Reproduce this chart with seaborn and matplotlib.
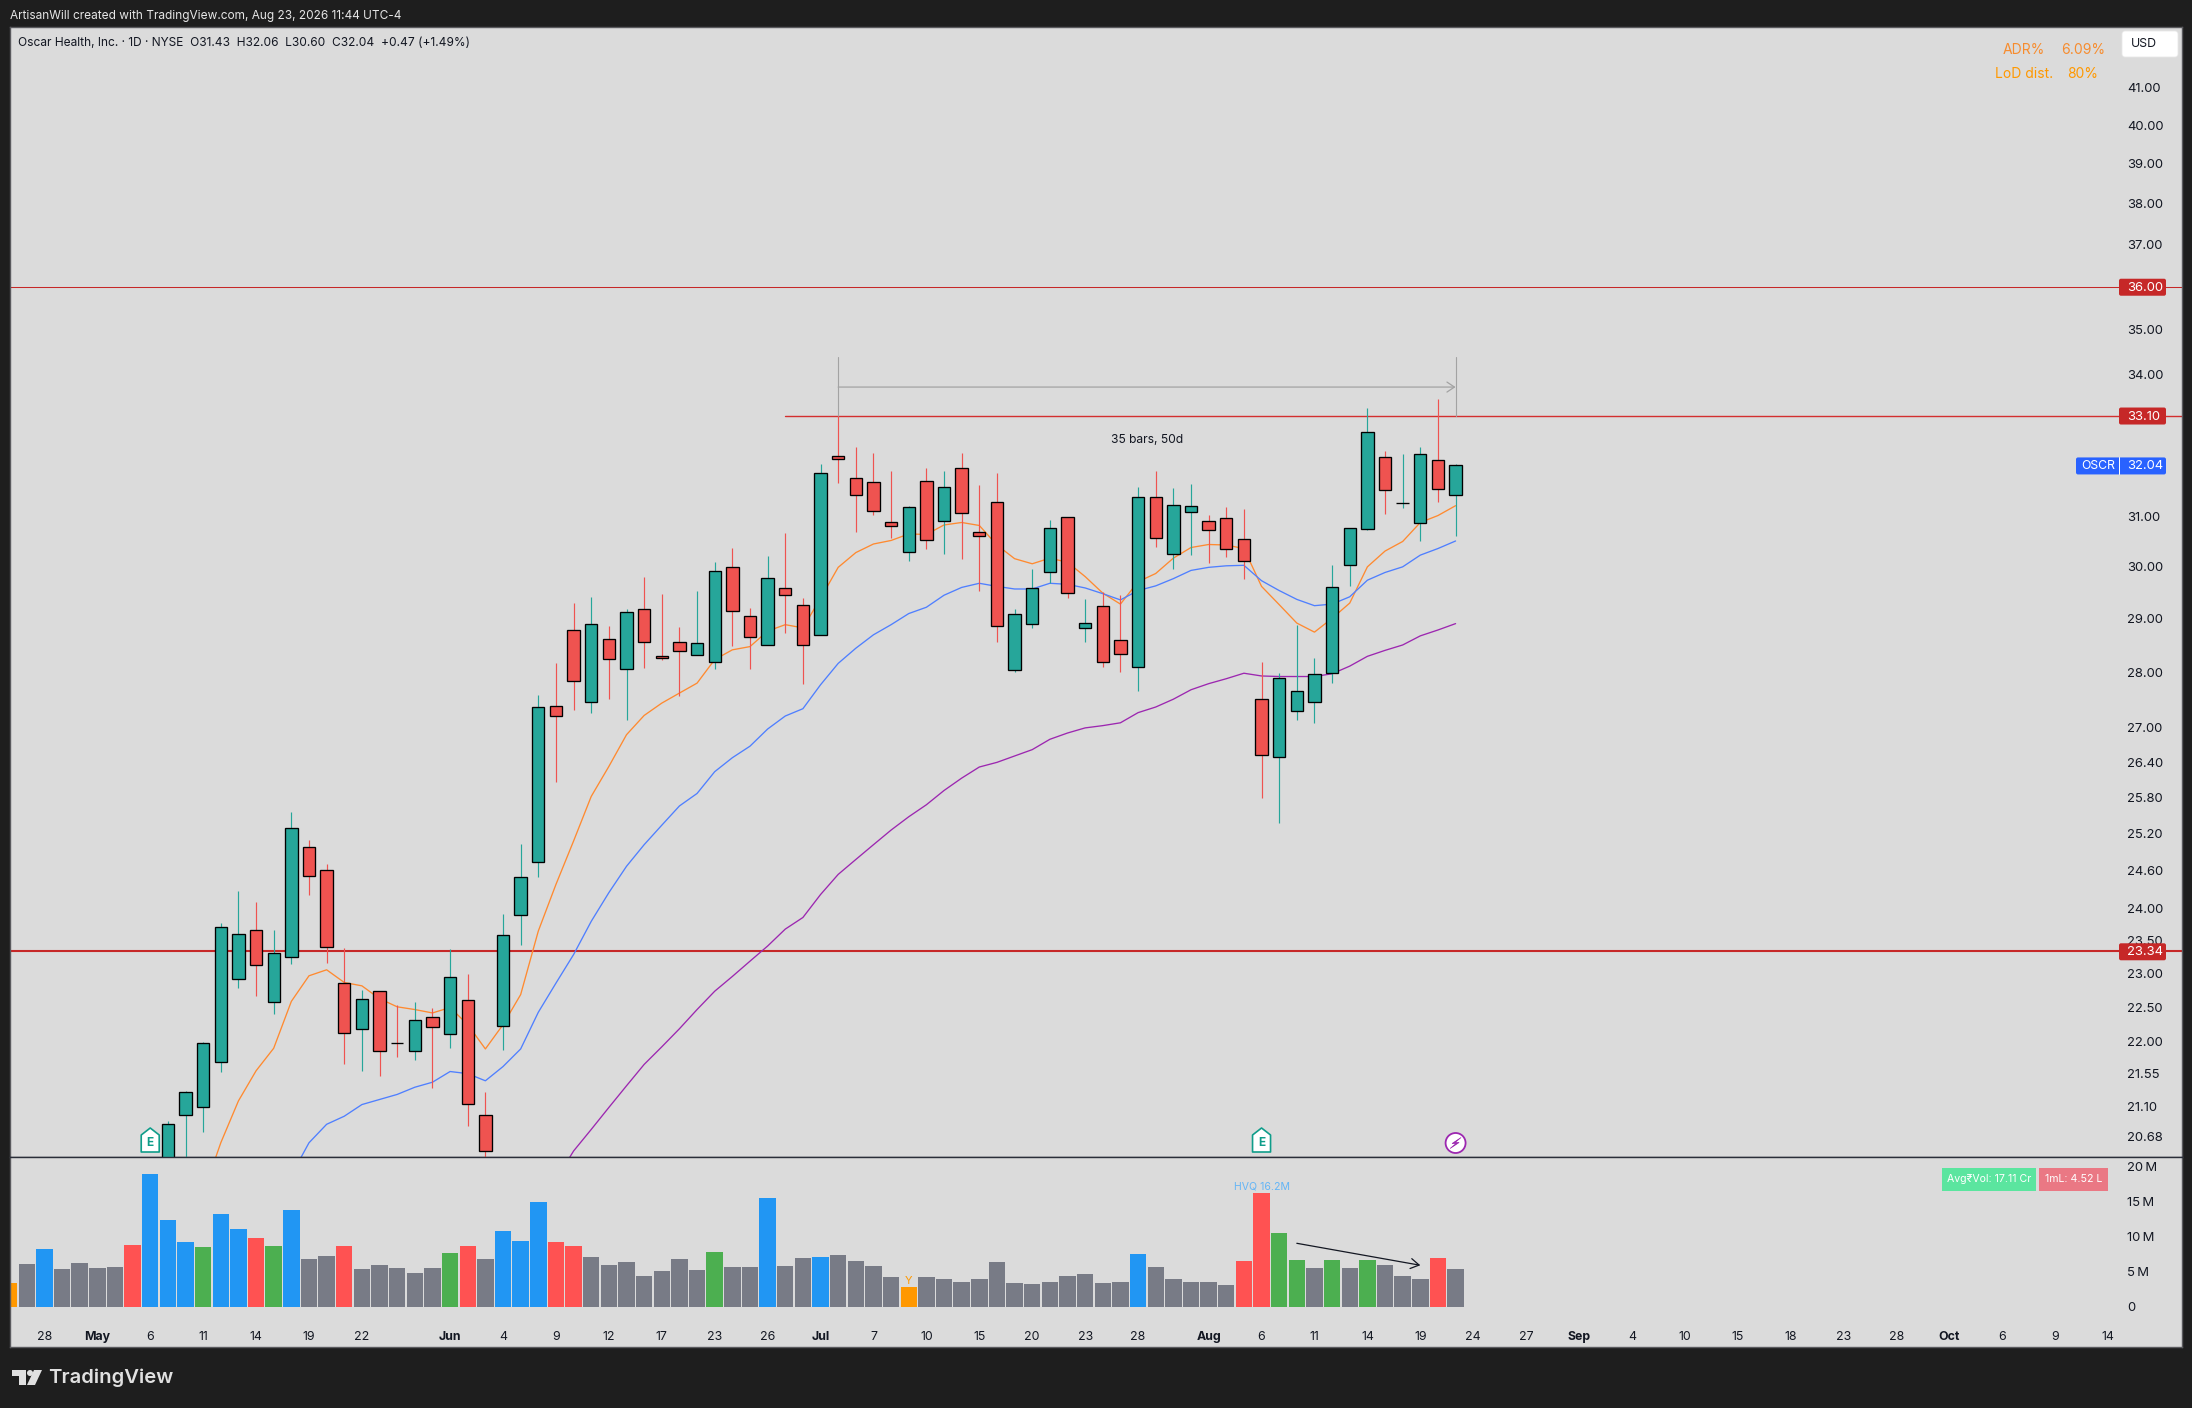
import numpy as np
import pandas as pd
import matplotlib
matplotlib.use("Agg")
import matplotlib.pyplot as plt
from matplotlib.patches import Rectangle, FancyBboxPatch, Polygon, Circle
from matplotlib.ticker import NullLocator
import seaborn as sns

# ---------- data ----------
candle_start = 9
high_ = [20.89,21.31,22.00,23.77,24.27,24.11,23.66,25.56,25.09,24.70,23.39,22.76,22.74,22.54,22.58,22.49,23.37,23.00,21.30,23.92,25.03,27.59,
         28.16,29.29,29.41,28.86,29.18,29.80,29.47,28.84,29.53,30.09,30.36,29.20,30.20,30.66,29.39,32.06,33.10,32.43,32.31,31.93,31.21,31.99,31.93,32.31,31.64,31.89,
         29.18,29.95,30.92,30.98,29.37,29.51,29.45,31.60,31.93,31.58,31.66,31.03,31.19,31.15,28.19,27.99,28.88,28.25,30.03,30.75,33.27,32.35,32.27,32.43,33.46,32.06]
open_ = [20.25,20.97,21.09,21.72,22.92,23.67,22.58,23.25,24.98,24.61,22.86,22.18,22.74,21.99,21.87,22.36,22.12,22.61,20.97,22.23,23.90,24.74,
         27.39,28.78,27.46,28.61,28.06,29.18,28.30,28.55,28.31,28.19,29.98,29.04,28.50,29.58,29.25,28.69,32.24,31.78,31.70,30.88,30.28,31.72,30.90,31.99,30.68,31.28,
         28.04,28.89,29.88,30.98,28.81,29.23,28.59,28.09,31.39,30.24,31.08,30.90,30.96,30.54,27.51,26.49,27.30,27.46,27.98,30.02,30.74,32.22,31.26,30.86,32.16,31.43]
close_ = [20.86,21.30,21.99,23.71,23.60,23.13,23.31,25.29,24.52,23.40,22.13,22.62,21.87,21.98,22.32,22.21,22.95,21.13,20.49,23.59,24.50,27.37,
          27.21,27.84,28.89,28.24,29.12,28.55,28.26,28.39,28.53,29.91,29.14,28.65,29.77,29.44,28.50,31.89,32.18,31.43,31.10,30.80,31.18,30.52,31.59,31.06,30.59,28.86,
          29.08,29.58,30.75,29.48,28.91,28.19,28.33,31.39,30.56,31.22,31.20,30.72,30.35,30.10,26.53,27.89,27.66,27.97,29.60,30.75,32.75,31.53,31.27,32.28,31.55,32.04]
low_ = [20.20,20.35,20.74,21.57,22.79,22.67,22.40,23.14,24.21,23.16,21.68,21.59,21.52,21.78,21.74,21.35,21.92,20.83,20.38,21.88,23.44,24.50,
        26.07,27.32,27.26,27.52,27.14,28.07,28.23,27.56,28.31,28.05,28.49,28.05,28.50,28.73,27.78,28.69,31.68,30.68,31.03,30.56,30.11,30.34,30.24,30.15,29.52,28.56,
        28.00,28.82,29.67,29.39,28.56,28.09,28.00,27.65,30.38,29.94,30.22,30.06,30.18,29.75,25.80,25.37,27.14,27.09,27.81,29.61,30.71,31.05,31.17,30.49,31.28,30.60]

ma_orange_start = 11
ma_orange = [19.93,20.60,21.17,21.59,21.91,22.59,22.97,23.06,22.87,22.82,22.63,22.51,22.47,22.42,22.50,22.25,21.90,22.25,22.69,23.65,24.38,25.08,25.82,26.33,26.88,27.22,
             27.44,27.62,27.80,28.23,28.41,28.47,28.76,28.88,28.82,29.38,29.98,30.27,30.44,30.51,30.64,30.63,30.82,30.87,30.81,30.42,
             30.15,30.05,30.16,30.08,29.80,29.48,29.27,29.70,29.86,30.16,30.37,30.43,30.42,30.35,29.61,29.26,28.91,28.74,29.00,29.29,29.99,30.30,30.49,30.87,31.01,31.21]
ma_blue_start = 16
ma_blue = [20.17,20.60,20.85,20.96,21.12,21.19,21.26,21.36,21.43,21.58,21.55,21.45,21.65,21.90,22.43,22.86,23.29,23.80,24.25,24.67,25.02,25.34,25.66,25.87,26.24,26.48,26.68,26.98,27.21,27.34,
           27.77,28.16,28.44,28.69,28.88,29.09,29.21,29.44,29.59,29.67,29.61,29.56,29.56,29.67,29.65,29.58,29.47,29.35,29.53,29.62,29.76,29.92,29.98,30.01,30.02,29.72,29.53,29.36,29.24,29.27,29.41,29.73,29.88,29.99,30.22,30.35,30.50]
ma_purple_start = 31
ma_purple = [20.11,20.49,20.78,21.08,21.38,21.68,21.93,22.19,22.47,22.74,22.96,23.19,23.42,23.68,23.86,24.22,24.54,24.78,25.02,25.26,25.48,25.68,25.92,26.13,26.32,26.40,26.51,26.62,26.80,26.91,27.00,27.04,27.09,27.27,27.37,27.51,27.68,27.79,27.88,27.98,27.93,27.92,27.92,27.92,27.97,28.11,28.29,28.40,28.50,28.67,28.78,28.90]

volume = [3.37,6.08,8.21,5.37,6.22,5.51,5.65,8.78,18.90,12.35,9.21,8.50,13.20,11.06,9.78,8.64,13.77,6.79,7.22,8.64,5.37,5.94,5.51,4.80,5.51,7.64,8.64,6.79,10.78,9.35,14.91,9.21,8.64,7.07,5.94,6.36,4.37,5.08,6.79,5.22,7.79,5.65,5.65,
          15.48,5.79,6.93,7.07,7.36,6.51,5.79,4.23,2.80,4.23,3.94,3.51,3.94,6.36,3.37,3.23,3.51,4.37,4.65,3.37,3.51,7.50,5.65,3.94,3.51,3.51,3.09,6.51,16.19,10.49,6.65,5.51,6.65,5.51,6.65,5.94,4.37,3.94,6.93,5.37]
vol_kind = list("ogbggggr" "bbbcbbrcb" "ggr" "ggggg" "cr" "g" "bbb" "rr" "ggggggg" "c" "gg" "b" "gg" "b" "gggg" "o"
                "gggggggggggg" "b" "ggggg" "rr" "cc" "g" "c" "g" "c" "ggg" "r" "g")

date_pos = [2,5,8,11,14,17,20,25,28,31,34,37,40,43,46,49,52,55,58,61,64,68,71,74,77,80,83,86,89,92,95,98,101,104,107,110,113,116,119]
date_lab = ["28","May","6","11","14","19","22","Jun","4","9","12","17","23","26","Jul","7","10","15","20","23","28","Aug","6","11","14","19","24","27","Sep","4","10","15","18","23","28","Oct","6","9","14"]
month_lab = {"May","Jun","Jul","Aug","Sep","Oct"}

price_ticks = [41,40,39,38,37,35,34,31,30,29,28,27,26.4,25.8,25.2,24.6,24,23.5,23,22.5,22,21.55,21.1,20.68]
vol_ticks = [0,5,10,15,20]
vol_tick_lab = ["0","5\u2009M","10\u2009M","15\u2009M","20\u2009M"]
level_high, level_mid, level_low = 36.00, 33.10, 23.34
last_close = 32.04

# ---------- theme ----------
sns.set_theme(style="white")
plt.rcParams["font.family"] = ["Inter", "DejaVu Sans"]
W, H = 2192, 1408
BG, PANEL = "#1e1e1e", "#dbdbdb"
TXT = "#131722"
UP, DOWN = "#26a69a", "#ef5350"

fig = plt.figure(figsize=(W/100, H/100), dpi=100, facecolor=BG)
L, R, T, S, B = 10, 2182, 27, 1157, 1347
ax = fig.add_axes([L/W, 1-S/H, (R-L)/W, (S-T)/H], facecolor=PANEL)
axv = fig.add_axes([L/W, 1-B/H, (R-L)/W, (B-S)/H], facecolor=PANEL)
xlim = (0.051, 123.18)

# ---------- price panel ----------
ax.set_yscale("log")
n_c = len(close_)
idx = np.arange(candle_start, candle_start+n_c)
o, h, l, c = map(np.array, (open_, high_, low_, close_))
cols = [UP if cc >= oo else DOWN for oo, cc in zip(o, c)]

ax.axhline(level_low, color="#c62828", lw=1.5, zorder=1.5)
ax.axhline(level_high, color="#c62828", lw=0.75, zorder=1.5)
ax.plot([44, 130], [level_mid]*2, color="#d32f2f", lw=1.0, zorder=1.5)

for start, vals, col in ((ma_orange_start, ma_orange, "#ff8a30"),
                         (ma_blue_start, ma_blue, "#4f7fff"),
                         (ma_purple_start, ma_purple, "#9c27b0")):
    d = pd.DataFrame({"i": np.arange(start, start+len(vals)), "v": vals})
    sns.lineplot(data=d, x="i", y="v", color=col, lw=0.95, ax=ax, zorder=2, estimator=None)

ax.vlines(idx, l, h, colors=cols, lw=0.85, zorder=3)
ax.bar(idx, c-o, bottom=o, width=0.70, color=cols, edgecolor="black", lw=0.95, zorder=4)

# date range measurement
mi, mj = 47, 82
gray = "#a3a3a3"
ax.plot([mi, mi], [level_mid, 34.39], color=gray, lw=0.8, zorder=1.6)
ax.plot([mj, mj], [level_mid, 34.39], color=gray, lw=0.8, zorder=1.6)
ax.annotate("", xy=(mj, 33.72), xytext=(mi, 33.72),
            arrowprops=dict(arrowstyle="->,head_length=0.45,head_width=0.3", color=gray, lw=0.9, shrinkA=0, shrinkB=0))
ax.text((mi+mj)/2, 32.57, "35 bars, 50d", ha="center", va="center", fontsize=8.7, color=TXT)

ax.set_xlim(xlim)
ax.set_ylim(20.41, 42.644)
ax.set_yticks(price_ticks, [f"{v:.2f}" for v in price_ticks])
ax.yaxis.set_minor_locator(NullLocator())
ax.tick_params(axis="y", which="both", length=0, pad=-39.6, labelright=True, labelleft=False,
               right=False, left=False, labelsize=9.4, labelcolor=TXT)
for t in ax.get_yticklabels():
    t.set_ha("left")
ax.set_xticks([])
ax.set_xlabel(""); ax.set_ylabel("")

# ---------- volume panel ----------
pal = {"g": "#787b86", "b": "#2196f3", "r": "#ff5252", "c": "#4caf50", "o": "#ff9800"}
vd = pd.DataFrame({"i": np.arange(len(volume)), "v": volume, "k": vol_kind})
sns.barplot(data=vd, x="i", y="v", hue="k", palette=pal, dodge=False, native_scale=True,
            width=0.93, saturation=1, legend=False, linewidth=0, ax=axv)
axv.set_xlim(xlim)
axv.set_ylim(-5.74, 21.32)
axv.set_xlabel(""); axv.set_ylabel("")
axv.set_xticks(date_pos, date_lab)
axv.set_yticks(vol_ticks, vol_tick_lab)
axv.tick_params(axis="y", length=0, pad=-39.6, labelright=True, labelleft=False, right=False, left=False,
                labelsize=9.4, labelcolor=TXT)
for t in axv.get_yticklabels():
    t.set_ha("left")
axv.tick_params(axis="x", length=0, pad=-11.7, labelsize=8.9, labelcolor=TXT)
for t in axv.get_xticklabels():
    if t.get_text() in month_lab:
        t.set_fontweight("bold")
axv.text(71, 17.1, "HVQ 16.2M", color="#64b5f6", fontsize=7.6, ha="center", va="center")
axv.text(51, 3.7, "Y", color="#ff9800", fontsize=8, ha="center", va="center")
axv.annotate("", xy=(80, 5.9), xytext=(73, 9.03),
             arrowprops=dict(arrowstyle="->,head_length=0.5,head_width=0.3", color="#131722", lw=0.9, shrinkA=0, shrinkB=0))

for a in (ax, axv):
    for name, sp in a.spines.items():
        sp.set_visible(True); sp.set_color("#5a5a5e"); sp.set_linewidth(1.0)
ax.spines["bottom"].set_color("#2a2e39")
axv.spines["top"].set_color("#2a2e39")

# ---------- overlay (labels, badges, icons) ----------
ov = fig.add_axes([0, 0, 1, 1], facecolor="none")
ov.set_xlim(0, W); ov.set_ylim(H, 0); ov.axis("off")
fig.canvas.draw()
def yp(price):
    return H - ax.transData.transform((1, price))[1]
def xp(i):
    return ax.transData.transform((i, 30))[0]

ov.text(10, 15.5, "ArtisanWill created with TradingView.com, Aug 23, 2026 11:44 UTC-4",
        color="#e6e6e6", fontsize=8.54, va="center", ha="left")
ov.text(18, 43.5, "Oscar Health, Inc. \u00b7 1D \u00b7 NYSE  O31.43  H32.06  L30.60  C32.04  +0.47 (+1.49%)",
        color=TXT, fontsize=8.59, va="center", ha="left")
ov.text(2003, 50, "ADR%", color="#f78c2e", fontsize=10, va="center")
ov.text(2061, 50, "6.09%", color="#f78c2e", fontsize=10, va="center")
ov.text(1995, 74, "LoD dist.", color="#ff9800", fontsize=10, va="center")
ov.text(2067, 74, "80%", color="#ff9800", fontsize=10, va="center")
ov.add_patch(FancyBboxPatch((2125, 34), 50, 20, boxstyle="round,pad=3", fc="white", ec="#e8e8e8", lw=0.6))
ov.text(2131, 44, "USD", color=TXT, fontsize=8.9, va="center")

def badge(x0, x1, y, col):
    ov.add_patch(FancyBboxPatch((x0+2, y-6.5), x1-x0-4, 13, boxstyle="round,pad=2", fc=col, ec="none"))

for lev in (level_high, level_mid, level_low):
    y = yp(lev) + 0.5
    badge(2119, 2166, y, "#c62828")
    ov.text(2127.5, y + 0.5, f"{lev:.2f}", color="white", fontsize=9.4, va="center", ha="left")
y = yp(last_close) + 0.5
badge(2076, 2166, y, "#2962ff")
ov.plot([2118.5, 2118.5], [y-8.5, y+8.5], color="white", lw=0.7)
ov.text(2081, y + 0.5, "OSCR", color="white", fontsize=8.8, va="center", ha="left")
ov.text(2127.5, y + 0.5, f"{last_close:.2f}", color="white", fontsize=9.4, va="center", ha="left")

ov.add_patch(Rectangle((1942, 1168), 94, 22.5, fc="#5be59f", ec="none"))
ov.text(1989, 1179, "Avg\u20b9Vol: 17.11 Cr", color="white", fontsize=7.6, va="center", ha="center")
ov.add_patch(Rectangle((2039, 1168), 69, 22.5, fc="#ea7884", ec="none"))
ov.text(2073.5, 1179, "1mL: 4.52 L", color="white", fontsize=7.6, va="center", ha="center")

def earnings(i):
    x = xp(i)
    ov.add_patch(Polygon([(x-9, 1135), (x, 1128), (x+9, 1135), (x+9, 1152), (x-9, 1152)], closed=True,
                         fc="white", ec="#0f9d8a", lw=1.2, joinstyle="round"))
    ov.text(x, 1143.5, "E", color="#0f9d8a", fontsize=8.5, fontweight="bold", ha="center", va="center")
earnings(8); earnings(71)
xl = xp(82)
ov.add_patch(Circle((xl, 1143), 10, fc="white", ec="#9c27b0", lw=1.3))
ov.add_patch(Polygon([(xl+5.5, 1137.5), (xl-3.5, 1143.5), (xl+0.5, 1143.5), (xl-5.5, 1148.5),
                      (xl+3.5, 1142.5), (xl-0.5, 1142.5)],
                     closed=True, fc="#9c27b0", ec="#9c27b0", lw=0.5))

# logo
logo = "#e0e0e0"
ov.add_patch(Polygon([(12, 1370), (26, 1370), (26, 1385), (19, 1385), (19, 1376), (12, 1376)], closed=True, fc=logo, ec="none"))
ov.add_patch(Circle((30, 1373), 3, fc=logo, ec="none"))
ov.add_patch(Polygon([(34, 1370), (42, 1370), (35, 1385), (27, 1385)], closed=True, fc=logo, ec="none"))
ov.text(48, 1378, "TradingView", color=logo, fontsize=14.6, fontweight="semibold", va="center", ha="left")

fig.savefig("out.png", dpi=100, facecolor=BG)
